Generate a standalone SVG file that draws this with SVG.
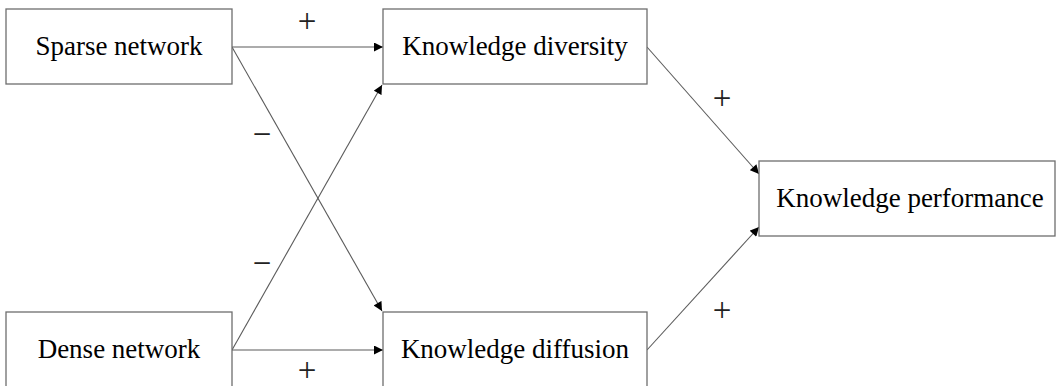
<svg xmlns="http://www.w3.org/2000/svg" width="1056" height="386" viewBox="0 0 1056 386">
<style>
.box{fill:#fff;stroke:#6e6e6e;stroke-width:1.3}
.lbl{font-family:"Liberation Serif","Times New Roman",serif;font-size:27px;fill:#000;text-anchor:middle}
.sign{font-family:"Liberation Serif","Times New Roman",serif;font-size:33px;fill:#222;text-anchor:middle}
.edge{stroke:#5a5a5a;stroke-width:1.1;fill:none;marker-end:url(#ah)}
</style>
<defs>
<marker id="ah" viewBox="0 0 10 10" refX="10" refY="5" markerWidth="10" markerHeight="9" markerUnits="userSpaceOnUse" orient="auto">
<path d="M0,0 L10,5 L0,10 Z" fill="#000"/>
</marker>
</defs>
<rect width="1056" height="386" fill="#fff"/>
<g id="connectors">
<line class="edge" x1="232" y1="47" x2="383" y2="47"/>
<line class="edge" x1="232" y1="47" x2="382" y2="311"/>
<line class="edge" x1="232" y1="350" x2="382" y2="85"/>
<line class="edge" x1="232" y1="350" x2="383" y2="350"/>
<line class="edge" x1="647" y1="47" x2="759" y2="174"/>
<line class="edge" x1="647" y1="350" x2="759" y2="227"/>
<text class="sign" x="307" y="32">+</text>
<text class="sign" x="262" y="145">−</text>
<text class="sign" x="262" y="274">−</text>
<text class="sign" x="307" y="381">+</text>
<text class="sign" x="722" y="109">+</text>
<text class="sign" x="722" y="321">+</text>
</g>
<g id="sparse-network">
<rect class="box" x="6" y="9" width="226" height="75"/>
<text class="lbl" x="119" y="55">Sparse network</text>
</g>
<g id="knowledge-diversity">
<rect class="box" x="383" y="9" width="264" height="75"/>
<text class="lbl" x="515" y="55">Knowledge diversity</text>
</g>
<g id="knowledge-performance">
<rect class="box" x="759" y="161" width="296" height="75"/>
<text class="lbl" x="910" y="207">Knowledge performance</text>
</g>
<g id="dense-network">
<rect class="box" x="6" y="312" width="226" height="76"/>
<text class="lbl" x="119" y="358">Dense network</text>
</g>
<g id="knowledge-diffusion">
<rect class="box" x="383" y="312" width="264" height="76"/>
<text class="lbl" x="515" y="358">Knowledge diffusion</text>
</g>
</svg>
